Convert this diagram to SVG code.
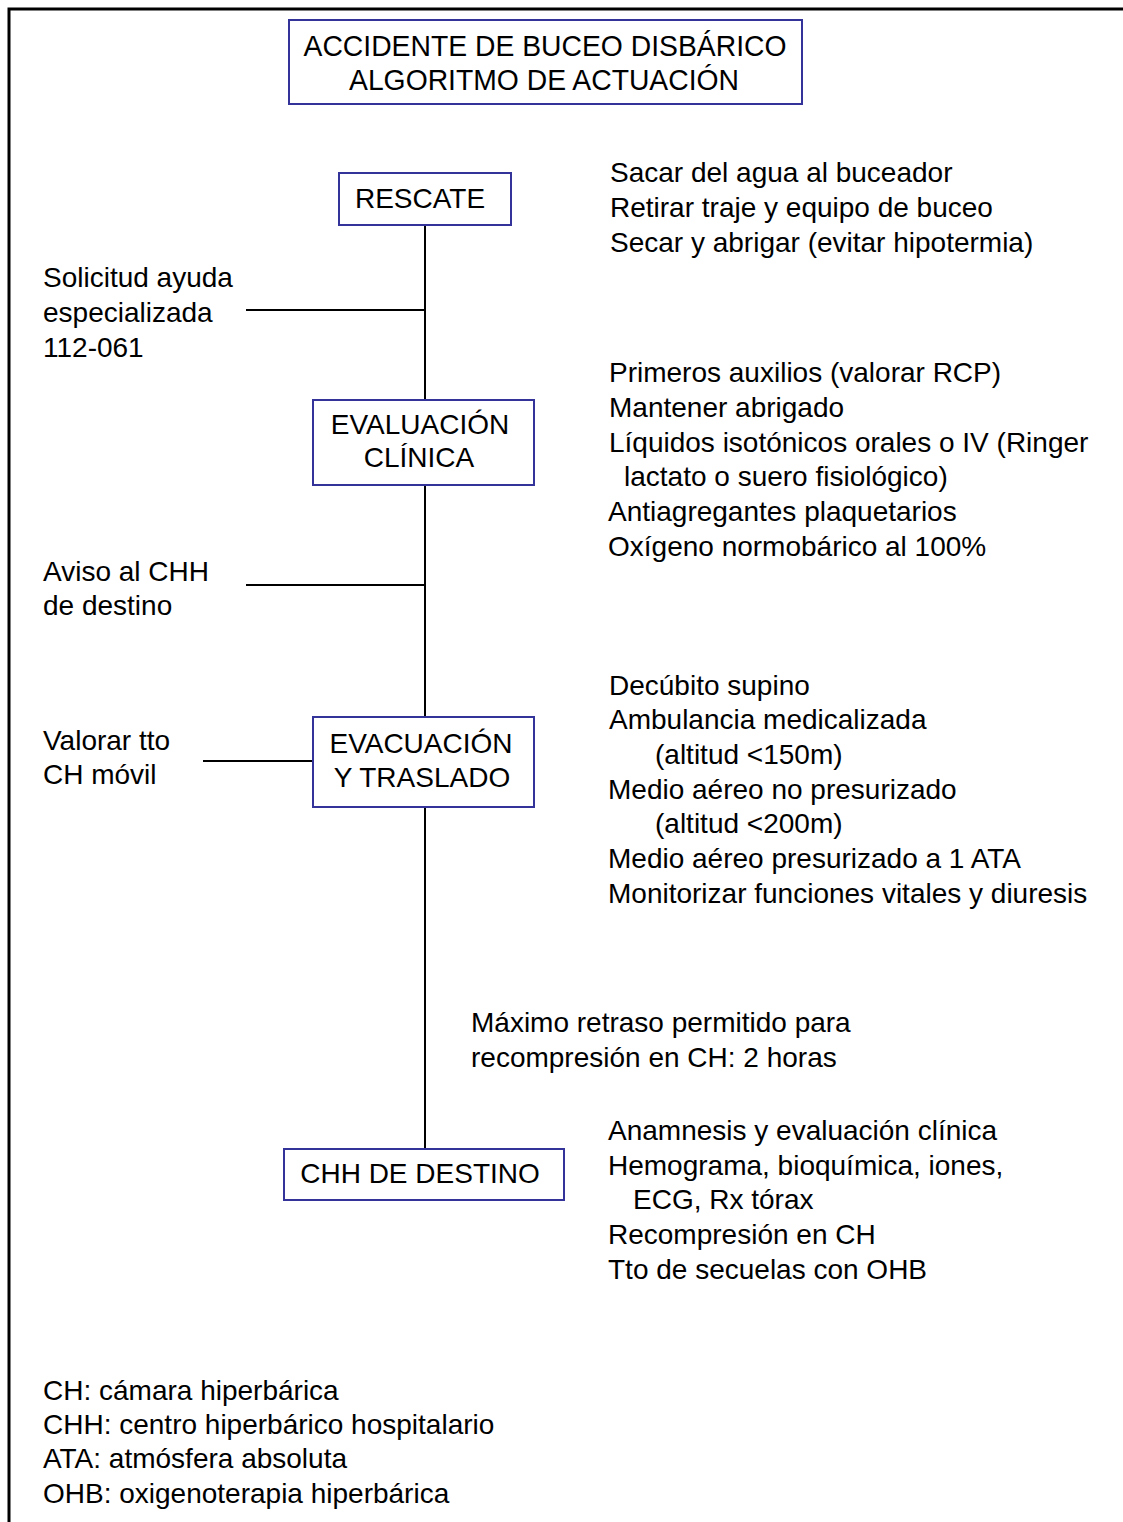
<svg xmlns="http://www.w3.org/2000/svg" width="1123" height="1522" viewBox="0 0 1123 1522">
<style>
text{font-family:"Liberation Sans",Arial,sans-serif;font-size:28px;fill:#000}
.box{fill:#fff;stroke:#333399;stroke-width:2}
.c{text-anchor:middle}
.ln{stroke:#000;stroke-width:2;fill:none}
</style>
<rect width="1123" height="1522" fill="#fff"/>
<path d="M9,1522 V9 H1123" fill="none" stroke="#000" stroke-width="3"/>
<g id="title">
<rect class="box" x="289" y="20" width="513" height="84"/>
<text class="c" x="545" y="56" style="font-size:30px" textLength="483" lengthAdjust="spacingAndGlyphs">ACCIDENTE DE BUCEO DISBÁRICO</text>
<text class="c" x="544" y="90" style="font-size:30px" textLength="390" lengthAdjust="spacingAndGlyphs">ALGORITMO DE ACTUACIÓN</text>
</g>
<g id="connectors">
<line class="ln" x1="425" y1="225" x2="425" y2="400"/>
<line class="ln" x1="425" y1="485" x2="425" y2="717"/>
<line class="ln" x1="425" y1="807" x2="425" y2="1149"/>
<line class="ln" x1="246" y1="310" x2="425" y2="310"/>
<line class="ln" x1="246" y1="585" x2="425" y2="585"/>
<line class="ln" x1="203" y1="761" x2="313" y2="761"/>
</g>
<g id="rescate">
<rect class="box" x="339" y="173" width="172" height="52"/>
<text class="c" x="420" y="208">RESCATE</text>
</g>
<g id="evaluacion">
<rect class="box" x="313" y="400" width="221" height="85"/>
<text class="c" x="420" y="434">EVALUACIÓN</text>
<text class="c" x="419" y="467">CLÍNICA</text>
</g>
<g id="evacuacion">
<rect class="box" x="313" y="717" width="221" height="90"/>
<text class="c" x="421" y="753">EVACUACIÓN</text>
<text class="c" x="422" y="787">Y TRASLADO</text>
</g>
<g id="chh">
<rect class="box" x="284" y="1149" width="280" height="51"/>
<text class="c" x="420" y="1183">CHH DE DESTINO</text>
</g>
<g id="rescate-notes">
<text x="610" y="182">Sacar del agua al buceador</text>
<text x="610" y="217">Retirar traje y equipo de buceo</text>
<text x="610" y="252">Secar y abrigar (evitar hipotermia)</text>
</g>
<g id="solicitud">
<text x="43" y="287">Solicitud ayuda</text>
<text x="43" y="322">especializada</text>
<text x="43" y="357">112-061</text>
</g>
<g id="evaluacion-notes">
<text x="609" y="382">Primeros auxilios (valorar RCP)</text>
<text x="609" y="417">Mantener abrigado</text>
<text x="609" y="452">Líquidos isotónicos orales o IV (Ringer</text>
<text x="624" y="486">lactato o suero fisiológico)</text>
<text x="608" y="521">Antiagregantes plaquetarios</text>
<text x="608" y="556">Oxígeno normobárico al 100%</text>
</g>
<g id="aviso">
<text x="43" y="581">Aviso al CHH</text>
<text x="43" y="615">de destino</text>
</g>
<g id="valorar">
<text x="43" y="750">Valorar tto</text>
<text x="43" y="784">CH móvil</text>
</g>
<g id="evacuacion-notes">
<text x="609" y="695">Decúbito supino</text>
<text x="609" y="729">Ambulancia medicalizada</text>
<text x="655" y="764">(altitud &lt;150m)</text>
<text x="608" y="799">Medio aéreo no presurizado</text>
<text x="655" y="833">(altitud &lt;200m)</text>
<text x="608" y="868">Medio aéreo presurizado a 1 ATA</text>
<text x="608" y="903">Monitorizar funciones vitales y diuresis</text>
</g>
<g id="retraso">
<text x="471" y="1032">Máximo retraso permitido para</text>
<text x="471" y="1067">recompresión en CH: 2 horas</text>
</g>
<g id="chh-notes">
<text x="608" y="1140">Anamnesis y evaluación clínica</text>
<text x="608" y="1175">Hemograma, bioquímica, iones,</text>
<text x="633" y="1209">ECG, Rx tórax</text>
<text x="608" y="1244">Recompresión en CH</text>
<text x="608" y="1279">Tto de secuelas con OHB</text>
</g>
<g id="legend">
<text x="43" y="1400">CH: cámara hiperbárica</text>
<text x="43" y="1434">CHH: centro hiperbárico hospitalario</text>
<text x="43" y="1468">ATA: atmósfera absoluta</text>
<text x="43" y="1503">OHB: oxigenoterapia hiperbárica</text>
</g>
</svg>
